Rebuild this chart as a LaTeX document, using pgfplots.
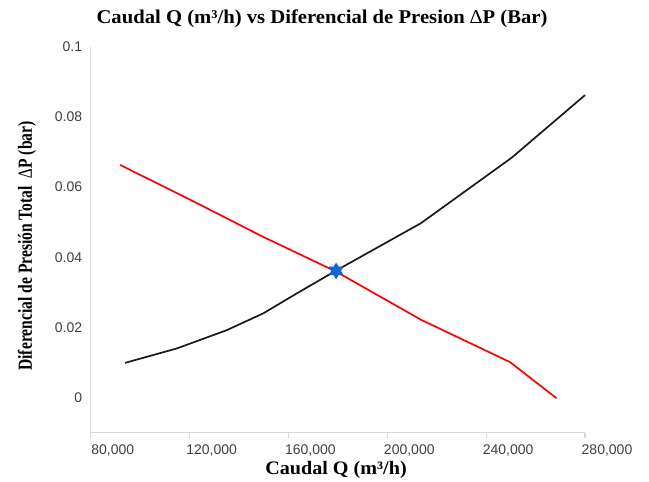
\documentclass[border=0pt]{standalone}
\usepackage{fontspec}
\setmainfont{Liberation Serif}
\newfontfamily\titlefont[FakeStretch=1.06]{Liberation Serif}
\newfontfamily\tickfont{Liberation Sans}
\newfontfamily\ylabfont[FakeStretch=0.78]{Liberation Serif}
\usepackage{pgfplots}
\pgfplotsset{compat=1.18}
\definecolor{axisgray}{RGB}{217,217,217}
\definecolor{tickgray}{RGB}{64,64,64}
\definecolor{starblue}{RGB}{20,100,215}
\pgfdeclareplotmark{star6}{%
 \pgfpathmoveto{\pgfqpointpolar{90}{\pgfplotmarksize}}%
 \pgfpathlineto{\pgfqpointpolar{210}{\pgfplotmarksize}}%
 \pgfpathlineto{\pgfqpointpolar{330}{\pgfplotmarksize}}%
 \pgfpathclose
 \pgfpathmoveto{\pgfqpointpolar{270}{\pgfplotmarksize}}%
 \pgfpathlineto{\pgfqpointpolar{30}{\pgfplotmarksize}}%
 \pgfpathlineto{\pgfqpointpolar{150}{\pgfplotmarksize}}%
 \pgfpathclose
 \pgfusepathqfill}
\begin{document}
\begin{tikzpicture}
\path[use as bounding box] (0,0) rectangle (649pt,482pt);
\begin{axis}[
  at={(90.7pt,49.3pt)}, anchor=south west,
  width=494.3pt, height=386pt, scale only axis,
  xmin=80000, xmax=280000, ymin=-0.01, ymax=0.1,
  scaled x ticks=false, scaled y ticks=false,
  axis x line*=bottom, axis y line*=left,
  axis line style={draw=axisgray, line width=1.4pt},
  tick align=outside, major tick length=5pt,
  tick style={draw=axisgray, line width=1.2pt},
  xtick={80000,120000,160000,200000,240000,280000},
  xticklabels={{80,000},{120,000},{160,000},{200,000},{240,000},{280,000}},
  xticklabel style={font=\tickfont\fontsize{14}{16}\selectfont, text=tickgray, xshift=22pt, yshift=-3pt},
  ytick={0,0.02,0.04,0.06,0.08,0.1},
  yticklabels={{0},{0.02},{0.04},{0.06},{0.08},{0.1}},
  ytick style={draw=none},
  yticklabel style={font=\tickfont\fontsize{14}{16}\selectfont, text=tickgray},
  extra y ticks={-0.01,0.01,0.03,0.05,0.07,0.09},
  extra y tick labels={},
  extra y tick style={tick style={draw=axisgray, line width=1.2pt}},
  clip=false,
]
\addplot[black!90, line width=1.7pt] coordinates {
  (93900,0.0099) (114800,0.0140) (135000,0.0192) (149800,0.0240)
  (163400,0.0297) (179300,0.0362) (213600,0.0497) (250400,0.0684) (280000,0.0862)
};
\addplot[red, line width=1.7pt] coordinates {
  (91900,0.0663) (120200,0.0564) (149800,0.0458) (179300,0.0359)
  (213600,0.0222) (249700,0.0101) (268500,-0.0002)
};
\addplot[only marks, mark=star6, mark size=8.5pt, color=starblue] coordinates {
  (179300,0.0361)
};
\end{axis}
\node[font=\titlefont\bfseries\fontsize{19.5}{23}\selectfont] at (322pt,463pt) {Caudal Q (m³/h) vs Diferencial de Presion {\mdseries ∆}P (Bar)};
\node[font=\titlefont\bfseries\fontsize{19}{22}\selectfont] at (336pt,12pt) {Caudal Q (m³/h)};
\node[font=\ylabfont\bfseries\fontsize{20}{24}\selectfont, rotate=90] at (27pt,236pt) {Diferencial de Presión Total ~{\mdseries ∆}P (bar)};
\end{tikzpicture}
\end{document}
